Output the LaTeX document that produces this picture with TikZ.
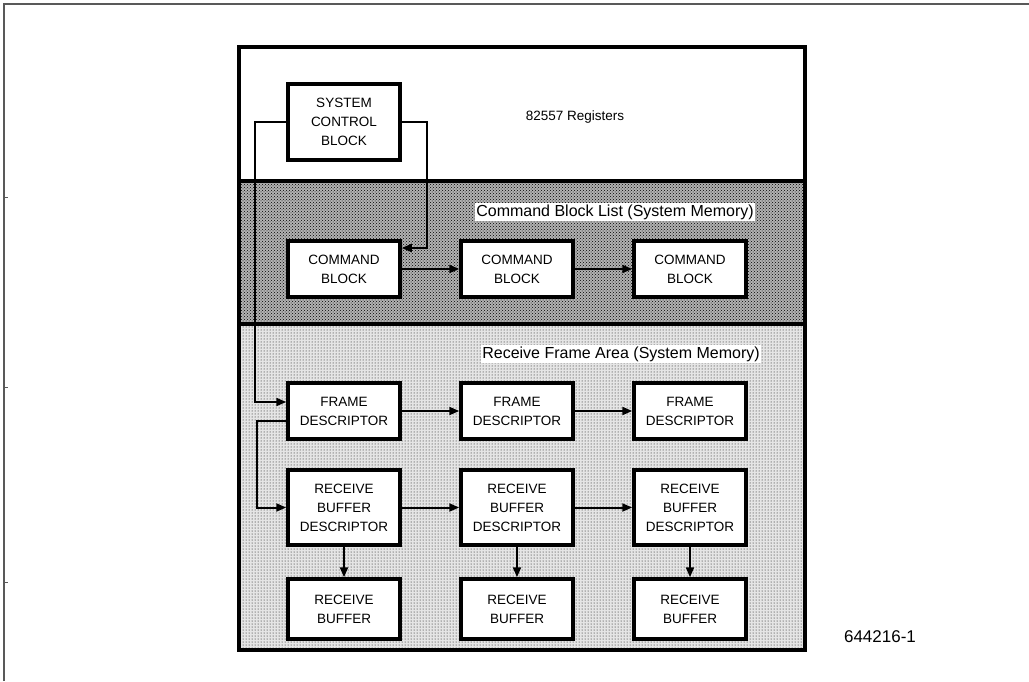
\documentclass[tikz,border=0pt]{standalone}
\usepackage{fontspec}
\setmainfont{Liberation Sans}
\usetikzlibrary{arrows.meta,patterns}

\begin{document}
\begin{tikzpicture}[x=1pt,y=-1pt,
    bloc/.style={draw,line width=3.5pt,fill=white,minimum width=112pt,inner sep=0pt,
                 align=center,font=\fontsize{13.5}{19}\selectfont},
    fil/.style={line width=2pt},
    fleche/.style={fil,-{Triangle[length=10pt,width=8pt]}},
    zone/.style={fill=white,inner sep=1.5pt,font=\fontsize{16}{18}\selectfont}]

    \useasboundingbox (0,0) rectangle (1029,681);

    % Cadre
    \draw[line width=1.5pt,black!65] (4,681) -- (4,4) -- (1029,4);
    \draw[line width=1pt,black!65] (4,197) -- (8,197);
    \draw[line width=1pt,black!65] (4,387) -- (8,387);
    \draw[line width=1pt,black!65] (4,582) -- (8,582);

    % Zones
    \fill[black!30] (239,181) rectangle (805,324);
    \fill[pattern=crosshatch dots] (239,181) rectangle (805,324);
    \fill[black!10] (239,324) rectangle (805,650);
    \fill[pattern=dots] (239,324) rectangle (805,650);
    \draw[line width=3.5pt] (239,181) -- (805,181);
    \draw[line width=3.5pt] (239,324) -- (805,324);
    \draw[line width=4pt] (239,47) rectangle (805,650);

    % Textes des zones
    \node[font=\fontsize{13.5}{15}\selectfont] (reg) at (575,117) {82557 Registers};
    \node[zone] (lcb) at (615,212) {Command Block List (System Memory)};
    \node[zone] (lrf) at (621,354) {Receive Frame Area (System Memory)};

    % Blocs
    \node[bloc,minimum height=76pt] (scb) at (344,122) {SYSTEM\\CONTROL\\BLOCK};

    \node[bloc,minimum height=56pt] (cb1) at (344,269) {COMMAND\\BLOCK};
    \node[bloc,minimum height=56pt] (cb2) at (517,269) {COMMAND\\BLOCK};
    \node[bloc,minimum height=56pt] (cb3) at (690,269) {COMMAND\\BLOCK};

    \node[bloc,minimum height=56pt] (fd1) at (344,411) {FRAME\\DESCRIPTOR};
    \node[bloc,minimum height=56pt] (fd2) at (517,411) {FRAME\\DESCRIPTOR};
    \node[bloc,minimum height=56pt] (fd3) at (690,411) {FRAME\\DESCRIPTOR};

    \node[bloc,minimum height=75pt] (rbd1) at (344,507.5) {RECEIVE\\BUFFER\\DESCRIPTOR};
    \node[bloc,minimum height=75pt] (rbd2) at (517,507.5) {RECEIVE\\BUFFER\\DESCRIPTOR};
    \node[bloc,minimum height=75pt] (rbd3) at (690,507.5) {RECEIVE\\BUFFER\\DESCRIPTOR};

    \node[bloc,minimum height=60pt] (rb1) at (344,609) {RECEIVE\\BUFFER};
    \node[bloc,minimum height=60pt] (rb2) at (517,609) {RECEIVE\\BUFFER};
    \node[bloc,minimum height=60pt] (rb3) at (690,609) {RECEIVE\\BUFFER};

    % Liens
    \draw[fleche] (scb.west) -- ++(-31,0) |- ([yshift=9pt]fd1.west);
    \draw[fleche] (scb.east) -- ++(25,0) |- ([yshift=21pt]cb1.east);
    \draw[fleche] (cb1) -- (cb2);
    \draw[fleche] (cb2) -- (cb3);
    \draw[fleche] (fd1) -- (fd2);
    \draw[fleche] (fd2) -- (fd3);
    \draw[fleche] ([yshift=-10pt]fd1.west) -- ++(-29,0) |- (rbd1.west);
    \draw[fleche] (rbd1) -- (rbd2);
    \draw[fleche] (rbd2) -- (rbd3);
    \draw[fleche] (rbd1) -- (rb1);
    \draw[fleche] (rbd2) -- (rb2);
    \draw[fleche] (rbd3) -- (rb3);

    % Numero de figure
    \node[font=\fontsize{17}{19}\selectfont] (fig) at (880,637) {644216-1};

\end{tikzpicture}
\end{document}
